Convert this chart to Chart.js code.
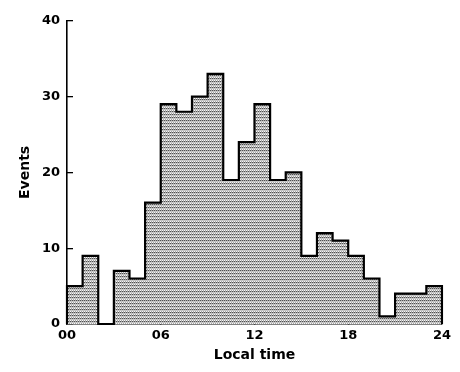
<!DOCTYPE html>
<html>
<head>
<meta charset="utf-8">
<script src="https://cdn.jsdelivr.net/npm/chart.js@4/dist/chart.umd.min.js"></script>
<style>
  html, body { margin: 0; padding: 0; background: #fff; }
  canvas { display: block; }
</style>
</head>
<body>
<canvas id="myChart" width="460" height="372"></canvas>
<script>
// hourly bins, local time 00-24
const hours = [0, 1, 2, 3, 4, 5, 6, 7, 8, 9, 10, 11, 12, 13, 14, 15, 16, 17, 18, 19, 20, 21, 22, 23];
const events = [5, 9, 0, 7, 6, 16, 29, 28, 30, 33, 19, 24, 29, 19, 20, 9, 12, 11, 9, 6, 1, 4, 4, 5];
const xTicks = ['00', '06', '12', '18', '24'];
const yTicks = [0, 10, 20, 30, 40];

// stippled grey, like the printed screen
function stipple() {
    const c = document.createElement('canvas');
    c.width = 4;
    c.height = 3;
    const g = c.getContext('2d');
    g.fillStyle = '#f8f8f8';
    g.fillRect(0, 0, 4, 3);
    g.fillStyle = '#c6c6c6';
    g.fillRect(0, 1, 4, 1);
    for (let x = 0; x < 4; x += 2) {
        g.fillStyle = '#505050';
        g.fillRect(x, 0, 1, 1);
        g.fillStyle = '#a8a8a8';
        g.fillRect(x + 1, 0, 1, 1);
        g.fillStyle = '#a4a4a4';
        g.fillRect(x + 1, 2, 1, 1);
    }
    return g.createPattern(c, 'repeat');
}

// step outline: each bin holds from its start hour to the next
let pts = [{ x: 0, y: 0 }];
hours.forEach((h, i) => pts.push({ x: h, y: events[i] }));
pts.push({ x: 24, y: events[events.length - 1] });
pts.push({ x: 24, y: 0 });

const ctx = document.getElementById('myChart');
const tickFont = { family: 'DejaVu Sans', size: 13, weight: 'bold' };
const titleFont = { family: 'DejaVu Sans', size: 14, weight: 'bold' };

new Chart(ctx, {
    type: 'line',
    data: {
        datasets: [{
            data: pts,
            stepped: 'before',
            fill: 'origin',
            backgroundColor: stipple(),
            borderColor: '#000',
            borderWidth: 2.2,
            pointRadius: 0,
            clip: 6
        }]
    },
    options: {
        responsive: false,
        animation: false,
        layout: { padding: { top: 14, right: 17, left: 0, bottom: 0 } },
        plugins: { legend: { display: false }, tooltip: { enabled: false } },
        scales: {
            x: {
                type: 'linear',
                min: 0,
                max: 24,
                afterFit: s => { s.height = 48; },
                afterBuildTicks: s => { s.ticks = xTicks.map(t => ({ value: Number(t) })); },
                ticks: {
                    color: '#000',
                    font: tickFont,
                    padding: 9,
                    maxRotation: 0,
                    callback: v => String(v).padStart(2, '0')
                },
                grid: { drawOnChartArea: false, tickLength: -5, color: '#000', lineWidth: 1.3 },
                border: { color: '#000', width: 1.6 },
                title: { display: true, text: 'Local time', color: '#000', font: titleFont, padding: { top: 0, bottom: 8 } }
            },
            y: {
                min: 0,
                max: 40,
                afterFit: s => { s.width = 67; },
                afterBuildTicks: s => { s.ticks = yTicks.map(v => ({ value: v })); },
                ticks: { color: '#000', font: tickFont, padding: 13 },
                grid: { drawOnChartArea: false, tickLength: -6, color: '#000', lineWidth: 1.3 },
                border: { color: '#000', width: 1.6 },
                title: { display: true, text: 'Events', color: '#000', font: titleFont, padding: { top: 17, bottom: 0 } }
            }
        }
    }
});
</script>
</body>
</html>
